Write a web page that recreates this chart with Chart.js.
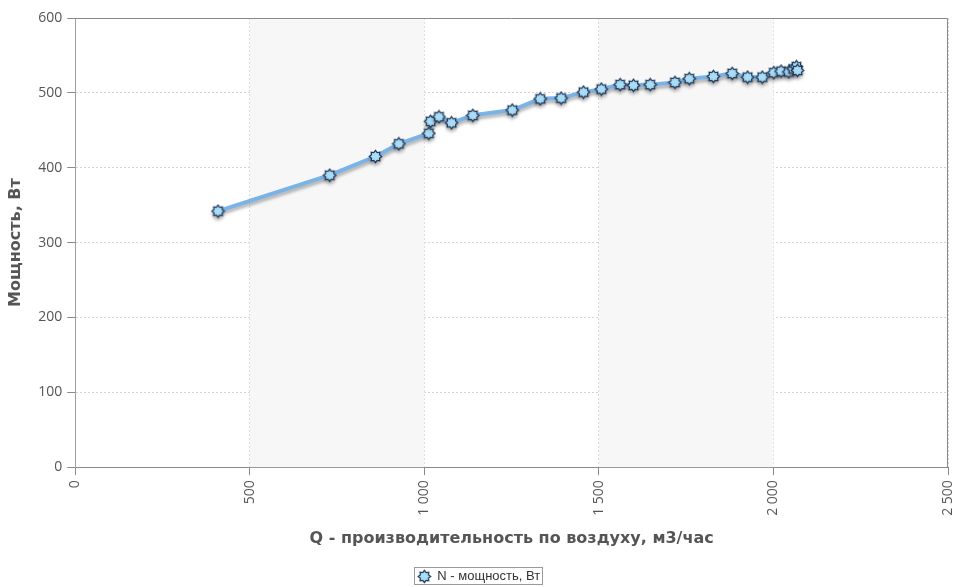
<!DOCTYPE html>
<html>
<head>
<meta charset="utf-8">
<script src="https://cdn.jsdelivr.net/npm/chart.js@4/dist/chart.umd.min.js"></script>
<style>
  html, body { margin: 0; padding: 0; background: #fff; }
  #wrap { width: 958px; height: 587px; position: relative; }
</style>
</head>
<body>
<div id="wrap"><canvas id="myChart"></canvas></div>
<script>
// air flow, m3/h
const flow = [409, 729, 860, 927, 1013, 1018, 1042, 1078, 1139, 1252, 1332, 1392, 1456, 1507,
  1561, 1599, 1647, 1718, 1759, 1828, 1882, 1926, 1968, 2001, 2022, 2044, 2057, 2066, 2069];
// power, W
const power = [342, 390, 415, 432, 446, 462, 468, 460, 470, 477, 492, 493, 501, 505,
  511, 510, 511, 514, 519, 522, 526, 521, 521, 527, 529, 528, 532, 535, 530];
const xTicks = [0, 500, 1000, 1500, 2000, 2500];
const yTicks = [0, 100, 200, 300, 400, 500, 600];
const seriesName = "N - мощность, Вт";

// gear-like marker
const marker = document.createElement("canvas");
marker.width = 15;
marker.height = 15;
(function () {
  const c = marker.getContext("2d");
  const n = 8, ro = 6.2, ri = 4.3;
  c.beginPath();
  for (let i = 0; i < n * 2; i++) {
    const r = i % 2 === 0 ? ro : ri;
    const a = (Math.PI / n) * i - Math.PI / 2;
    const px = 7.5 + r * Math.cos(a), py = 7.5 + r * Math.sin(a);
    if (i === 0) c.moveTo(px, py); else c.lineTo(px, py);
  }
  c.closePath();
  c.fillStyle = "#a9dcf6";
  c.fill();
  c.lineWidth = 1.2;
  c.strokeStyle = "#1d3656";
  c.stroke();
})();

const fmt = (v) => String(v).replace(/\B(?=(\d{3})+(?!\d))/g, " ");

// shaded bands between every other x tick, plus solid frame
const bands = {
  id: "bands",
  beforeDatasetsDraw(chart) {
    const { ctx, chartArea: a, scales: { x } } = chart;
    ctx.save();
    ctx.fillStyle = "#f7f7f7";
    for (let i = 1; i < xTicks.length - 1; i += 2) {
      const l = x.getPixelForValue(xTicks[i]);
      const r = x.getPixelForValue(xTicks[i + 1]);
      ctx.fillRect(l, a.top, r - l, a.bottom - a.top);
    }
    ctx.restore();
  },
  afterDatasetsDraw(chart) {
    const { ctx, chartArea: a } = chart;
    ctx.save();
    ctx.strokeStyle = "#8a8a8a";
    ctx.lineWidth = 1;
    ctx.beginPath();
    ctx.moveTo(a.left, a.top + 0.5);
    ctx.lineTo(a.right - 0.5, a.top + 0.5);
    ctx.lineTo(a.right - 0.5, a.bottom);
    ctx.stroke();
    ctx.restore();
  },
  afterDraw(chart) {
    const lg = chart.legend;
    if (!lg || !lg.legendHitBoxes.length) return;
    const b = lg.legendHitBoxes[0];
    const { ctx } = chart;
    ctx.save();
    ctx.strokeStyle = "#9a9a9a";
    ctx.lineWidth = 1;
    ctx.strokeRect(Math.round(b.left) - 3.5, Math.round(b.top) - 2.5, Math.round(b.width) + 6, Math.round(b.height) + 4);
    ctx.restore();
  },
};

// grey drop shadow under the line
const lineShadow = {
  id: "lineShadow",
  beforeDatasetDraw(chart) {
    const ctx = chart.ctx;
    ctx.save();
    ctx.shadowColor = "rgba(90,90,90,0.45)";
    ctx.shadowBlur = 3;
    ctx.shadowOffsetX = 0;
    ctx.shadowOffsetY = 3;
  },
  afterDatasetDraw(chart) {
    chart.ctx.restore();
  },
};

const data = {
  datasets: [
    {
      label: seriesName,
      data: flow.map((q, i) => ({ x: q, y: power[i] })),
      borderColor: "#7ab3e6",
      borderWidth: 4,
      pointStyle: marker,
      pointRadius: 6,
      pointHoverRadius: 6,
      tension: 0,
      fill: false,
    },
  ],
};

const tickFont = { family: "'Open Sans', 'DejaVu Sans', sans-serif", size: 14 };
const titleFont = { family: "'DejaVu Sans', Verdana, sans-serif", size: 16, weight: "bold" };

const config = {
  type: "line",
  data: data,
  plugins: [bands, lineShadow],
  options: {
    responsive: true,
    maintainAspectRatio: false,
    animation: false,
    layout: { padding: { top: 18, right: 6, left: 6, bottom: -6 } },
    plugins: {
      tooltip: { enabled: false },
      legend: {
        position: "bottom",
        labels: {
          usePointStyle: true,
          pointStyle: marker,
          color: "#333",
          padding: 2,
          font: { family: "'Liberation Sans', Arial, sans-serif", size: 13 },
        },
      },
    },
    scales: {
      x: {
        type: "linear",
        min: 0,
        max: 2500,
        afterBuildTicks: (s) => { s.ticks = xTicks.map((v) => ({ value: v })); },
        afterFit: (s) => { s.paddingRight = 0; },
        ticks: {
          color: "#555",
          font: tickFont,
          minRotation: 90,
          maxRotation: 90,
          padding: 5,
          callback: (v) => fmt(v),
        },
        grid: {
          color: "#d4d4d4",
          tickColor: "#8a8a8a",
          tickLength: 8,
          tickBorderDash: [],
        },
        border: { color: "#8a8a8a", dash: [2, 2] },
        title: {
          display: true,
          text: "Q - производительность по воздуху, м3/час",
          color: "#555",
          font: titleFont,
          padding: { top: 8, bottom: 20 },
        },
      },
      y: {
        min: 0,
        max: 600,
        afterBuildTicks: (s) => { s.ticks = yTicks.map((v) => ({ value: v })); },
        ticks: {
          color: "#555",
          font: tickFont,
          padding: 5,
        },
        grid: {
          color: "#d4d4d4",
          tickColor: "#8a8a8a",
          tickLength: 8,
          tickBorderDash: [],
        },
        border: { color: "#a0a0a0", dash: [2, 2] },
        title: {
          display: true,
          text: "Мощность, Вт",
          color: "#555",
          font: titleFont,
          padding: { top: 0, bottom: 8 },
        },
      },
    },
  },
};

const chartOne = new Chart(document.getElementById("myChart"), config);
</script>
</body>
</html>
